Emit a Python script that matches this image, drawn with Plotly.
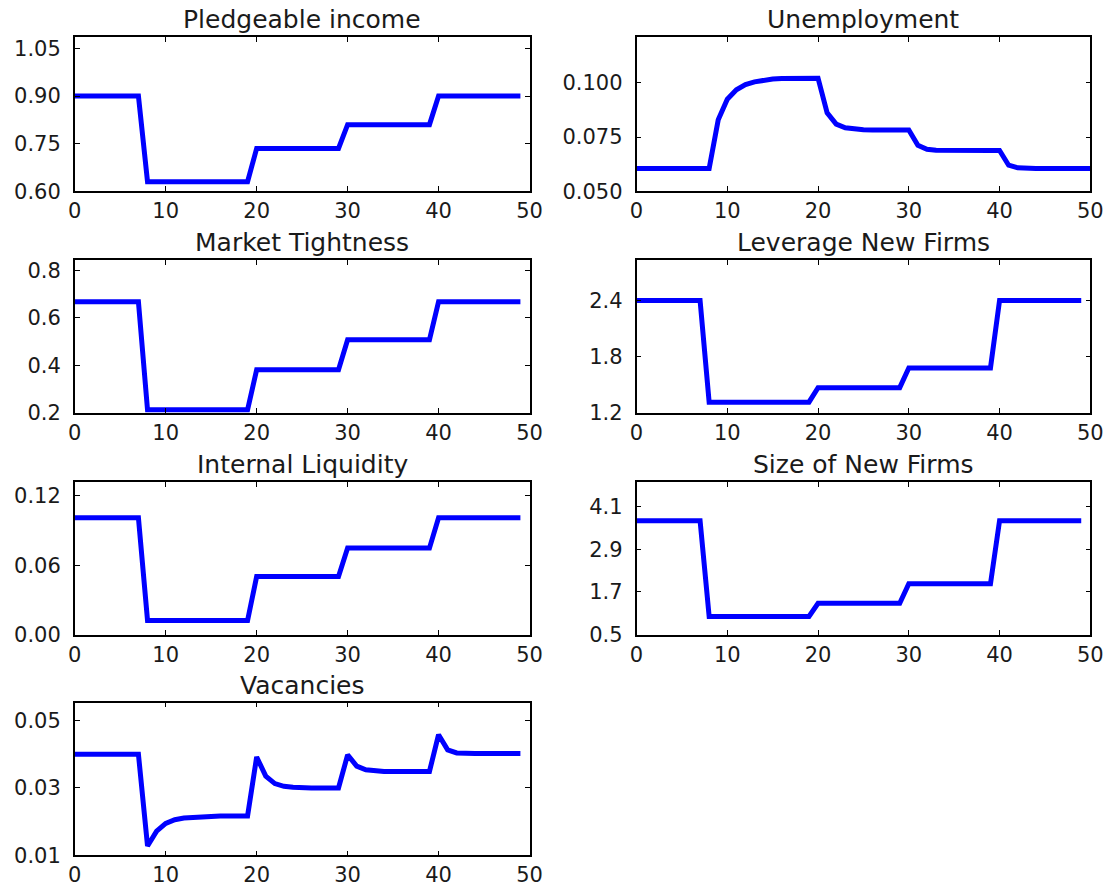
import plotly.graph_objects as go

# ---------------- data ----------------
t50 = list(range(50))
t51 = list(range(51))

pledgeable_income = [0.90]*8 + [0.63]*12 + [0.735]*10 + [0.81]*10 + [0.90]*10
unemployment = ([0.0605]*9 +
                [0.083, 0.0925, 0.0968, 0.0992, 0.1005, 0.1013, 0.1018, 0.1020, 0.1021, 0.1022, 0.1022, 0.1022] +
                [0.0862, 0.0810, 0.0793, 0.0787, 0.0784] + [0.0783]*5 +
                [0.0712, 0.0694, 0.0689] + [0.0688]*7 +
                [0.0620, 0.0608] + [0.0605]*8)
market_tightness = [0.668]*8 + [0.213]*12 + [0.382]*10 + [0.508]*10 + [0.668]*10
leverage_new_firms = [2.40]*8 + [1.315]*12 + [1.47]*10 + [1.68]*10 + [2.40]*10
internal_liquidity = [0.101]*8 + [0.0122]*12 + [0.0503]*10 + [0.0748]*10 + [0.101]*10
size_new_firms = [3.70]*8 + [1.01]*12 + [1.38]*10 + [1.93]*10 + [3.70]*10
vacancies = ([0.040]*8 +
             [0.0128, 0.0172, 0.0195, 0.0206, 0.0211, 0.0213, 0.0215] + [0.0217]*5 +
             [0.0392, 0.0335, 0.0313, 0.0305, 0.0302] + [0.0300]*5 +
             [0.0398, 0.0365, 0.0354, 0.0350] + [0.0349]*6 +
             [0.0458, 0.0413, 0.0404] + [0.0402]*7)

titles = ["Pledgeable income", "Unemployment", "Market Tightness", "Leverage New Firms",
          "Internal Liquidity", "Size of New Firms", "Vacancies"]
xs = [t50, t51, t50, t50, t50, t50, t50]
ys = [pledgeable_income, unemployment, market_tightness, leverage_new_firms,
      internal_liquidity, size_new_firms, vacancies]
y_ranges = [[0.60, 1.085], [0.050, 0.121], [0.2, 0.843], [1.2, 2.83],
            [0.0, 0.132], [0.5, 4.79], [0.01, 0.0553]]
y_ticks = [[0.60, 0.75, 0.90, 1.05], [0.050, 0.075, 0.100], [0.2, 0.4, 0.6, 0.8],
           [1.2, 1.8, 2.4], [0.00, 0.06, 0.12], [0.5, 1.7, 2.9, 4.1], [0.01, 0.03, 0.05]]
y_formats = [".2f", ".3f", ".1f", ".1f", ".2f", ".1f", ".2f"]
x_ticks = [0, 10, 20, 30, 40, 50]

# ---------------- layout ----------------
W, H = 1120, 896
col_px = [(69, 532), (641, 1103)]
row_px = [(37, 193), (263, 418), (488, 643), (712, 867)]

fig = go.Figure()
font = dict(family="DejaVu Sans", size=21, color="#1a1a1a")
annotations = []

for i in range(7):
    r, c = divmod(i, 2)
    n = i + 1
    xa = "x" if n == 1 else f"x{n}"
    ya = "y" if n == 1 else f"y{n}"
    fig.add_trace(go.Scatter(x=xs[i], y=ys[i], mode="lines",
                             line=dict(color="#0000ff", width=5),
                             xaxis=xa, yaxis=ya, showlegend=False))
    x0, x1 = col_px[c]
    y0, y1 = row_px[r]
    axis_common = dict(showline=True, linecolor="black", linewidth=1.5, mirror="ticks",
                       ticks="inside", ticklen=5, tickwidth=1, tickcolor="black",
                       showgrid=False, zeroline=False, tickfont=font, fixedrange=True)
    fig.layout[f"xaxis{'' if n == 1 else n}"] = dict(
        domain=[x0 / W, x1 / W], anchor=ya, range=[0, 50],
        tickvals=x_ticks, ticktext=[str(v) for v in x_ticks], ticklabelstandoff=0, **axis_common)
    fig.layout[f"yaxis{'' if n == 1 else n}"] = dict(
        domain=[1 - y1 / H, 1 - y0 / H], anchor=xa, range=y_ranges[i],
        tickvals=y_ticks[i], tickformat=y_formats[i], ticklabelstandoff=8, **axis_common)
    annotations.append(dict(text=titles[i], x=(x0 + x1) / 2 / W, y=1 - y0 / H,
                            xref="paper", yref="paper", xanchor="center", yanchor="bottom",
                            yshift=1, showarrow=False,
                            font=dict(family="DejaVu Sans", size=25, color="#1a1a1a")))

fig.update_layout(width=W, height=H, margin=dict(l=0, r=0, t=0, b=0),
                  paper_bgcolor="white", plot_bgcolor="white", annotations=annotations,
                  hovermode=False)

fig.write_html("out.html", config={"displayModeBar": False},
               post_script="document.body.style.margin='0';")
